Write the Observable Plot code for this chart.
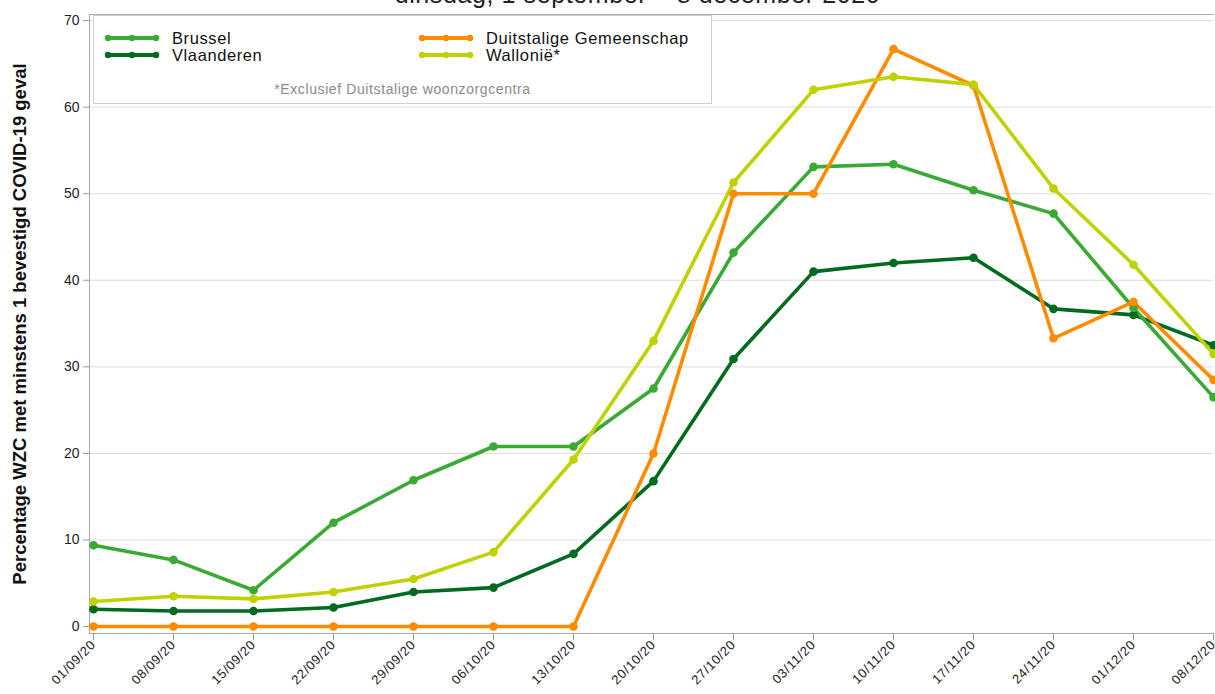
<!DOCTYPE html>
<html>
<head>
<meta charset="utf-8">
<script src="https://cdn.jsdelivr.net/npm/d3@7"></script>
<script src="https://cdn.jsdelivr.net/npm/@observablehq/plot@0.6"></script>
<style>
  html, body { margin: 0; padding: 0; background: #fff; overflow: hidden; }
  #wrap { position: relative; width: 1215px; height: 694px; font-family: "Liberation Sans", Arial, sans-serif; }
  #title { position: absolute; z-index: 5; left: 30px; width: 1215px; top: -20px; text-align: center; font-size: 25px; letter-spacing: 0.6px; color: #222; white-space: nowrap; }
  #legend { position: absolute; z-index: 4; left: 93px; top: 15px; width: 619px; height: 89px; border: 1px solid #d0d0d0; background: #fff; box-sizing: border-box; }
  .item { position: absolute; display: flex; align-items: center; height: 18px; font-size: 16.5px; letter-spacing: 0.6px; color: #111; }
  .item svg { margin-right: 12px; }
  #note { position: absolute; left: 0; width: 100%; top: 64px; line-height: 18px; text-align: center; font-size: 14px; letter-spacing: 0.6px; color: #8a8a8a; }
</style>
</head>
<body>
<div id="wrap">
  <div id="chart"></div>
  <div id="legend"></div>
  <div id="title">dinsdag, 1 september – 8 december 2020</div>
</div>
<script>
const dates = ["01/09/20","08/09/20","15/09/20","22/09/20","29/09/20","06/10/20","13/10/20","20/10/20","27/10/20","03/11/20","10/11/20","17/11/20","24/11/20","01/12/20","08/12/20"];
const seriesNames = ["Brussel", "Vlaanderen", "Duitstalige Gemeenschap", "Wallonië*"];
const seriesColors = ["#3aaa35", "#006a1f", "#ff8c00", "#bfd200"];
const brussel     = [9.4, 7.7, 4.2, 12.0, 16.9, 20.8, 20.8, 27.5, 43.2, 53.1, 53.4, 50.4, 47.7, 36.8, 26.5];
const vlaanderen  = [2.0, 1.8, 1.8, 2.2, 4.0, 4.5, 8.4, 16.8, 30.9, 41.0, 42.0, 42.6, 36.7, 36.0, 32.5];
const duitstalige = [0, 0, 0, 0, 0, 0, 0, 20.0, 50.0, 50.0, 66.7, 62.5, 33.3, 37.5, 28.5];
const wallonie    = [2.9, 3.5, 3.2, 4.0, 5.5, 8.6, 19.3, 33.0, 51.3, 62.0, 63.5, 62.6, 50.6, 41.8, 31.5];
const yTicks = [0, 10, 20, 30, 40, 50, 60, 70];
const yLabel = "Percentage WZC met minstens 1 bevestigd COVID-19 geval";
const legendNote = "*Exclusief Duitstalige woonzorgcentra";

const parse = d3.utcParse("%d/%m/%y");
const fmt = d3.utcFormat("%d/%m/%y");
const xDates = dates.map(parse);
const valuesBySeries = [brussel, vlaanderen, duitstalige, wallonie];
const drawOrder = [1, 0, 2, 3];
const rows = [];
for (const s of drawOrder) {
  valuesBySeries[s].forEach((v, i) => rows.push({series: seriesNames[s], date: xDates[i], value: v}));
}

const xStart = new Date(xDates[0].getTime() - 0.35 * 86400000);
const chart = Plot.plot({
  width: 1215,
  height: 694,
  marginLeft: 89,
  marginRight: 2,
  marginTop: 14,
  marginBottom: 61,
  style: {fontFamily: "Liberation Sans, Arial, sans-serif", color: "#333", background: "#fff"},
  x: {type: "utc", domain: [xStart, xDates[xDates.length - 1]]},
  y: {domain: [-0.8, 70.7]},
  color: {domain: seriesNames, range: seriesColors},
  marks: [
    Plot.gridY(yTicks.filter(d => d > 0), {stroke: "#dcdcdc", strokeOpacity: 1, strokeWidth: 1}),
    Plot.frame({anchor: "top", stroke: "#aaa"}),
    Plot.frame({anchor: "left", stroke: "#aaa"}),
    Plot.frame({anchor: "bottom", stroke: "#aaa"}),
    Plot.axisY({ticks: yTicks, tickSize: 6, tickPadding: 4, fontSize: 14, stroke: "#999", fill: "#222", label: null}),
    Plot.text([yLabel], {frameAnchor: "left", textAnchor: "middle", rotate: -90, dx: -69, fontSize: 18.5, fontWeight: "bold", fill: "#111", style: "letter-spacing:2.25px"}),
    Plot.axisX({ticks: xDates, tickFormat: fmt, tickRotate: -45, tickSize: 7, tickPadding: 2, fontSize: 13, stroke: "#999", fill: "#222", label: null}),
    Plot.line(rows, {x: "date", y: "value", z: "series", stroke: "series", strokeWidth: 3.6, curve: "linear"}),
    Plot.dot(rows, {x: "date", y: "value", fill: "series", r: 4.3})
  ]
});
chart.querySelectorAll("g[aria-label='x-axis tick label'] text").forEach(t => t.setAttribute("letter-spacing", "0.7"));
document.getElementById("chart").appendChild(chart);

// legend
const legend = document.getElementById("legend");
const pos = [[10, 13], [10, 30], [324, 13], [324, 30]];
seriesNames.forEach((name, i) => {
  const div = document.createElement("div");
  div.className = "item";
  div.style.left = pos[i][0] + "px";
  div.style.top = pos[i][1] + "px";
  const c = seriesColors[i];
  div.innerHTML = `<svg width="56" height="10"><line x1="3" x2="53" y1="5" y2="5" stroke="${c}" stroke-width="4"/><circle cx="4" cy="5" r="3.2" fill="${c}"/><circle cx="28" cy="5" r="3.2" fill="${c}"/><circle cx="52" cy="5" r="3.2" fill="${c}"/></svg><span>${name}</span>`;
  legend.appendChild(div);
});
const note = document.createElement("div");
note.id = "note";
note.textContent = legendNote;
legend.appendChild(note);
</script>
</body>
</html>
